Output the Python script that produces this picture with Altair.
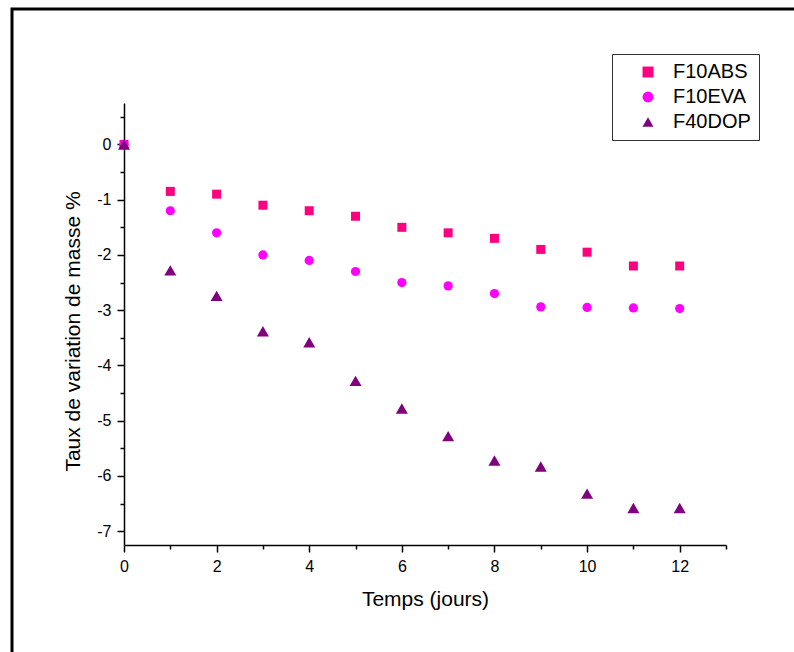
import altair as alt
import pandas as pd

days = list(range(0, 13))
f10abs = [0, -0.85, -0.9, -1.1, -1.2, -1.3, -1.5, -1.6, -1.7, -1.9, -1.95, -2.2, -2.2]
f10eva = [0, -1.2, -1.6, -2.0, -2.1, -2.3, -2.5, -2.56, -2.7, -2.94, -2.95, -2.96, -2.97]
f40dop = [0, -2.28, -2.74, -3.38, -3.58, -4.28, -4.78, -5.28, -5.72, -5.83, -6.32, -6.58, -6.58]

series = ["F10ABS", "F10EVA", "F40DOP"]
colors = ["#FF0080", "#FF00FF", "#800080"]
shapes = ["square", "circle", "triangle-up"]
sizes = [81, 85, 144]

x_ticks = list(range(0, 14))
y_ticks = [v / 2 for v in range(-14, 2)]

rows = []
for name, vals in zip(series, [f10abs, f10eva, f40dop]):
    for d, v in zip(days, vals):
        rows.append({"jour": d, "taux": v, "serie": name})
df = pd.DataFrame(rows)

FONT = "Liberation Sans"

x_enc = alt.X(
    "jour:Q",
    scale=alt.Scale(domain=[0, 13], nice=False, zero=False),
    axis=alt.Axis(
        title="Temps (jours)",
        values=x_ticks,
        labelExpr="datum.value % 2 === 0 ? '' + datum.value : ''",
        tickSize={"condition": {"test": "datum.value % 2 === 0", "value": 7}, "value": 4},
        grid=False,
        domainColor="black",
        tickColor="black",
        domainWidth=1.5,
        tickWidth=1.5,
        labelFont=FONT,
        labelFontSize=16,
        labelColor="black",
        labelPadding=6,
        labelFlush=False,
        labelOverlap=False,
        titleFont=FONT,
        titleFontSize=21,
        titleFontWeight="normal",
        titleColor="black",
        titleBaseline="top",
        titleY=43,
    ),
)
y_enc = alt.Y(
    "taux:Q",
    scale=alt.Scale(domain=[-7.25, 0.75], nice=False, zero=False),
    axis=alt.Axis(
        title="Taux de variation de masse %",
        values=y_ticks,
        labelExpr="datum.value % 1 === 0 ? '' + datum.value : ''",
        tickSize={"condition": {"test": "datum.value % 1 === 0", "value": 7}, "value": 4},
        grid=False,
        domainColor="black",
        tickColor="black",
        domainWidth=1.5,
        tickWidth=1.5,
        labelFont=FONT,
        labelFontSize=16,
        labelColor="black",
        labelPadding=6,
        labelFlush=False,
        labelOverlap=False,
        titleFont=FONT,
        titleFontSize=21,
        titleFontWeight="normal",
        titleColor="black",
        titleAngle=270,
        titleAlign="center",
        titleBaseline="alphabetic",
        titleX=-45,
        titleY=228,
    ),
)

color_enc = alt.Color(
    "serie:N",
    scale=alt.Scale(domain=series, range=colors),
    legend=alt.Legend(
        title=None,
        orient="none",
        legendX=488,
        legendY=-49,
        strokeColor="#333333",
        padding=8,
        symbolOffset=18,
        labelOffset=15,
        rowPadding=5,
        symbolSize=120,
        symbolStrokeWidth=0,
        labelFont=FONT,
        labelFontSize=20,
        labelColor="black",
        fillColor="white",
    ),
)
shape_enc = alt.Shape("serie:N", scale=alt.Scale(domain=series, range=shapes))

layers = []
for name, sz in zip(series, sizes):
    layers.append(
        alt.Chart(df)
        .transform_filter(alt.datum.serie == name)
        .mark_point(filled=True, opacity=1, size=sz)
        .encode(x=x_enc, y=y_enc, color=color_enc, shape=shape_enc)
    )

frame = (
    alt.Chart(pd.DataFrame({"a": [0]}))
    .mark_rect(fill="transparent", stroke="black", strokeWidth=3)
    .encode(x=alt.value(-112), x2=alt.value(720), y=alt.value(-94), y2=alt.value(620))
)

chart = (
    alt.layer(frame, *layers)
    .properties(
        width=602,
        height=442,
        autosize=alt.AutoSizeParams(type="none"),
        padding={"left": 124, "top": 103, "right": 68, "bottom": 107},
        background="white",
    )
    .configure_view(strokeWidth=0)
)

chart.save("out.html", embed_options={"renderer": "svg", "actions": False})
